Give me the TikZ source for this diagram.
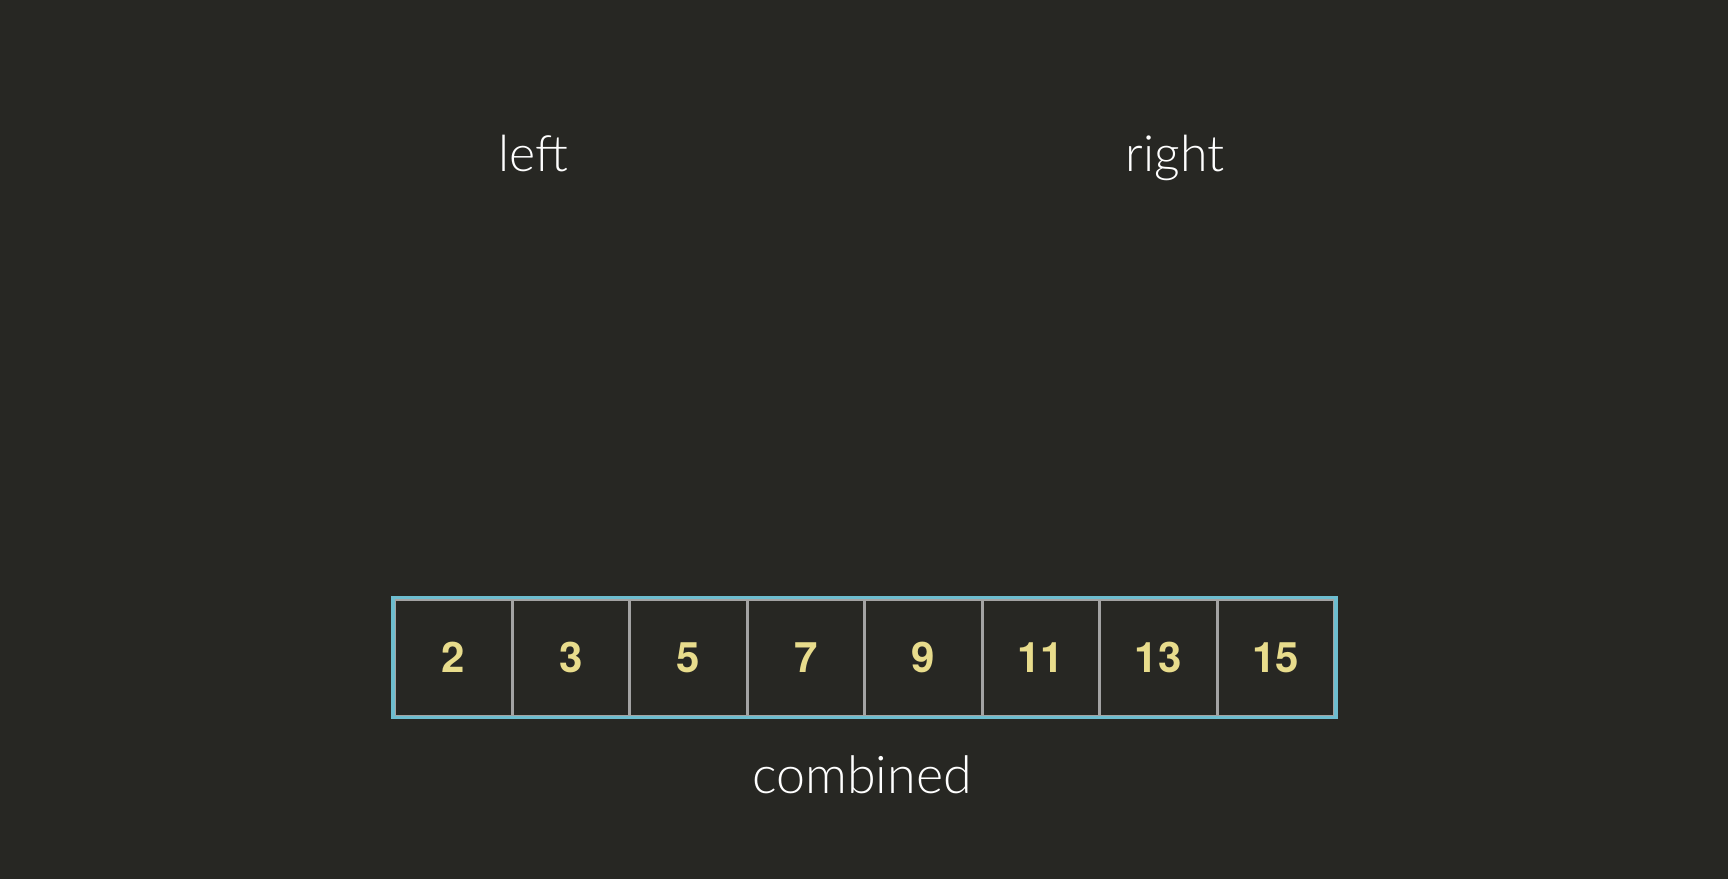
\documentclass[tikz,border=0pt]{standalone}
\usepackage{fontspec}
\setmainfont{Lato}
\newfontfamily\lightfont{Lato Light}
\newfontfamily\numfont{TeX Gyre Heros}
\definecolor{bg}{HTML}{272723}
\definecolor{cyanb}{HTML}{6DBDCF}
\definecolor{grayd}{HTML}{A3A3A3}
\definecolor{numy}{HTML}{E8DC8C}
\begin{document}
\begin{tikzpicture}[x=1pt,y=-1pt,
  label/.style={text=white,font=\lightfont\fontsize{50}{60}\selectfont,anchor=base,inner sep=0pt},
  cell/.style={draw=grayd,line width=3pt,minimum width=117.5pt,minimum height=117pt,inner sep=0pt,anchor=north west,
    text=numy,font=\numfont\bfseries\fontsize{42}{50}\selectfont},
  border/.style={draw=cyanb,line width=3.5pt}]
\fill[bg] (0,0) rectangle (1728,879);
\useasboundingbox (0,0) rectangle (1728,879);
\node[label] (left) at (533,171) {left};
\node[label] (right) at (1175,171) {right};
\node[label,font=\lightfont\fontsize{52}{60}\selectfont] (comb) at (862,793) {combined};
\foreach \v [count=\i] in {2,3,5,7,9,11,13,15}{
  \node[cell] (c\i) at ({393+117.5*(\i-1)},597.5) {\v};
}
\draw[border] (c1.north west) rectangle (c8.south east);
\end{tikzpicture}
\end{document}
